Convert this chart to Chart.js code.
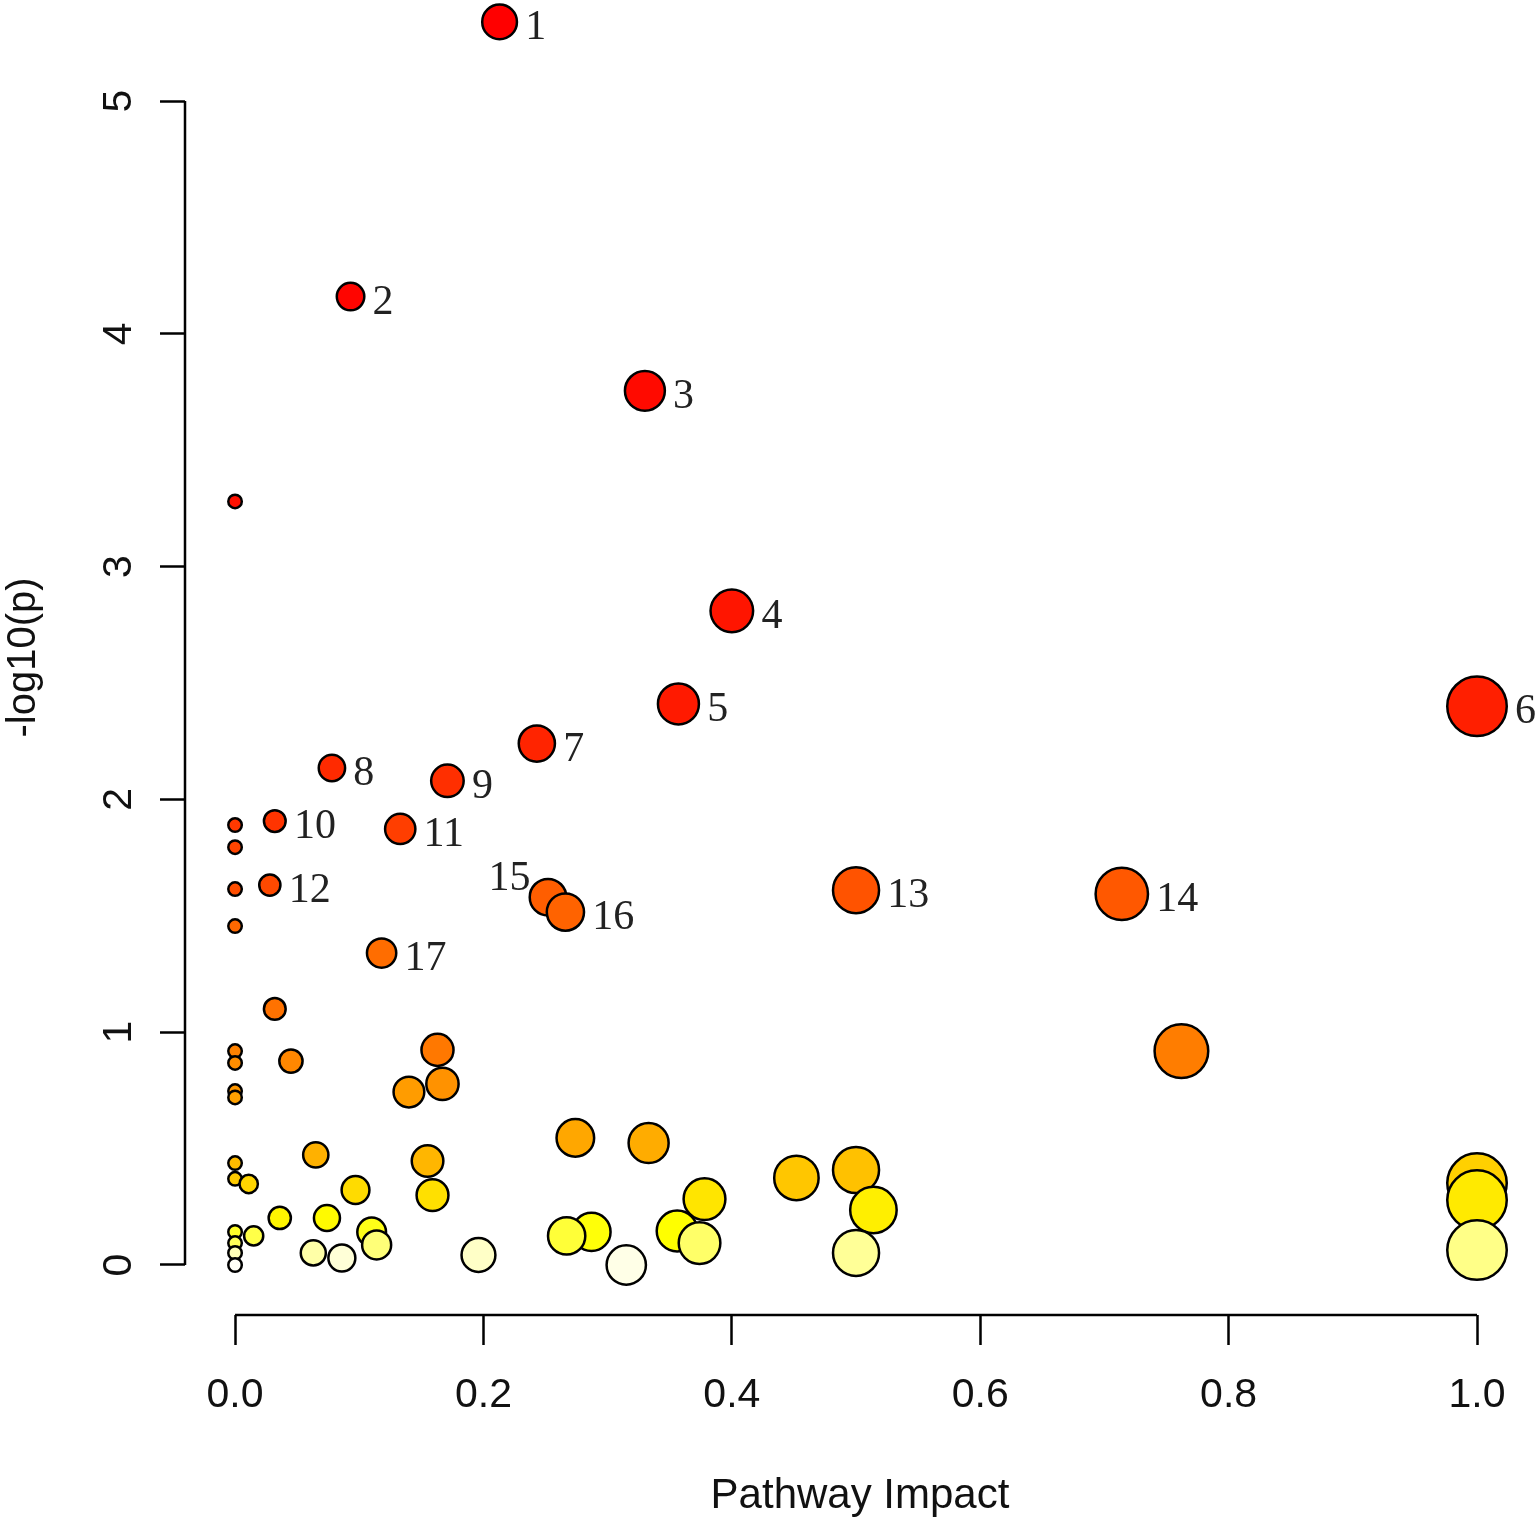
<!DOCTYPE html>
<html>
<head>
<meta charset="utf-8">
<title>Pathway Impact</title>
<script src="https://cdn.jsdelivr.net/npm/chart.js@4.4.1/dist/chart.umd.min.js"></script>
<style>
  html, body { margin: 0; padding: 0; background: #fff; overflow: hidden; }
  #wrap { position: relative; width: 1535px; height: 1522px; }
</style>
</head>
<body>
<div id="wrap"><canvas id="myChart"></canvas></div>
<script>
/*******************************
* DATA (sorted by -log10(p))
********************************/
var impact = [
  0.213, 0.093, 0.330, 0.000, 0.400, 0.357, 1.000, 0.243, 0.078, 0.171,
  0.032, 0.000, 0.133, 0.000, 0.028, 0.000, 0.500, 0.714, 0.252, 0.266,
  0.000, 0.118, 0.032, 0.163, 0.762, 0.000, 0.045, 0.000, 0.167, 0.000,
  0.140, 0.000, 0.274, 0.333, 0.065, 0.155, 0.000, 0.500, 0.452, 0.000,
  1.000, 0.011, 0.097, 0.159, 0.378, 1.000, 0.514, 0.036, 0.074, 0.356,
  0.287, 0.110, 0.000, 0.267, 0.015, 0.000, 0.374, 0.114, 1.000, 0.500,
  0.063, 0.000, 0.196, 0.086, 0.315, 0.000
];

var logP = [
  5.34, 4.16, 3.755, 3.28, 2.81, 2.41, 2.40, 2.24, 2.135, 2.08,
  1.907, 1.89, 1.873, 1.795, 1.632, 1.615, 1.61, 1.594, 1.58, 1.516,
  1.456, 1.34, 1.10, 0.924, 0.919, 0.919, 0.876, 0.868, 0.778, 0.747,
  0.743, 0.72, 0.546, 0.524, 0.473, 0.447, 0.438, 0.408, 0.374, 0.37,
  0.352, 0.348, 0.322, 0.30, 0.283, 0.279, 0.236, 0.202, 0.202, 0.146,
  0.142, 0.142, 0.142, 0.125, 0.125, 0.094, 0.094, 0.086, 0.064, 0.052,
  0.052, 0.052, 0.043, 0.03, 0.0, 0.0
];

var pathwayLabels = [
  '1', '2', '3', '', '4', '5', '6', '7', '8', '9',
  '10', '', '11', '', '12', '', '13', '14', '15', '16',
  '', '17', '', '', '', '', '', '', '', '',
  '', '', '', '', '', '', '', '', '', '',
  '', '', '', '', '', '', '', '', '', '',
  '', '', '', '', '', '', '', '', '', '',
  '', '', '', '', '', ''
];

var xTicks = [0, 0.2, 0.4, 0.6, 0.8, 1.0];
var yTicks = [0, 1, 2, 3, 4, 5];

var xTitle = 'Pathway Impact';
var yTitle = '-log10(p)';

(function(){
  /*******************************
  * LOAD
  ********************************/
  window.addEventListener('load', function() {
    app.init();
  })

  var SANS = '"Liberation Sans", Arial, sans-serif';
  var SERIF = '"Liberation Serif", "Times New Roman", serif';

  // label 15 sits up and to the left of its circle
  var labelLeft = { '15': true };

  var app = {

    init: function() {
      app.colors = app.heatColors();
      app.chart();
    },

    /*******************************
    * circle size grows with impact
    ********************************/
    radius: function(i) {
      return 8 + 23 * Math.sqrt(impact[i]);
    },

    /*******************************
    * R style heat.colors, by p-value rank
    ********************************/
    heatColors: function() {
      var n = logP.length;
      var j = Math.floor(n / 4);
      var i = n - j;
      var order = logP.map(function(v, k){ return k; });
      order.sort(function(a, b){ return logP[b] - logP[a]; });

      var cols = new Array(n);
      order.forEach(function(idx, rank){
        var h, s;
        if (rank < i) {
          h = (rank / (i - 1)) / 6;
          s = 1;
        } else {
          var m = rank - i;
          h = 1 / 6;
          s = (1 - 1 / (2 * j)) - m * ((1 - 1 / j) / (j - 1));
        }
        cols[idx] = app.hsv(h, s, 1);
      });
      return cols;
    },

    hsv: function(h, s, v) {
      var f = function(n) {
        var k = (n + h * 6) % 6;
        return v - v * s * Math.max(0, Math.min(k, 4 - k, 1));
      };
      return 'rgb(' + Math.round(f(5) * 255) + ',' + Math.round(f(3) * 255) + ',' + Math.round(f(1) * 255) + ')';
    },

    /*******************************
    * CHART
    ********************************/
    chart: function() {
      var ctx = document.getElementById('myChart');

      var points = impact.map(function(x, i){
        return { x: x, y: logP[i] };
      });

      // R style axes: line only from first to last tick
      var axisLines = {
        id: 'axisLines',
        afterDraw: function(chart) {
          var c = chart.ctx;
          var xs = chart.scales.x;
          var ys = chart.scales.y;
          var area = chart.chartArea;
          c.save();
          c.strokeStyle = '#000';
          c.lineWidth = 2.5;
          c.beginPath();
          c.moveTo(xs.getPixelForValue(xTicks[0]), area.bottom);
          c.lineTo(xs.getPixelForValue(xTicks[xTicks.length - 1]), area.bottom);
          c.moveTo(area.left, ys.getPixelForValue(yTicks[0]));
          c.lineTo(area.left, ys.getPixelForValue(yTicks[yTicks.length - 1]));
          c.stroke();

          // rotated y tick labels
          c.fillStyle = '#111';
          c.font = '41px ' + SANS;
          c.textAlign = 'center';
          c.textBaseline = 'middle';
          yTicks.forEach(function(v){
            c.save();
            c.translate(area.left - 65, ys.getPixelForValue(v));
            c.rotate(-Math.PI / 2);
            c.fillText(String(v), 0, 0);
            c.restore();
          });
          c.restore();
        }
      };

      // numbered labels beside the circles
      var pointLabels = {
        id: 'pointLabels',
        afterDatasetsDraw: function(chart) {
          var c = chart.ctx;
          var meta = chart.getDatasetMeta(0);
          c.save();
          c.fillStyle = '#222';
          c.font = '42px ' + SERIF;
          c.textBaseline = 'middle';
          pathwayLabels.forEach(function(lab, i){
            if (!lab) return;
            var el = meta.data[i];
            var r = app.radius(i);
            if (labelLeft[lab]) {
              c.textAlign = 'right';
              c.fillText(lab, el.x - r + 2, el.y - 18);
            } else {
              c.textAlign = 'left';
              c.fillText(lab, el.x + r + 7, el.y + 6);
            }
          });
          c.restore();
        }
      };

      var myChart = new Chart(ctx, {
        type: 'scatter',
        data: {
          datasets: [{
            data: points,
            clip: false,
            pointRadius: function(c){ return app.radius(c.dataIndex) - 1.25; },
            pointHoverRadius: function(c){ return app.radius(c.dataIndex) - 1.25; },
            pointBackgroundColor: app.colors,
            pointHoverBackgroundColor: app.colors,
            pointBorderColor: '#000',
            pointHoverBorderColor: '#000',
            pointBorderWidth: 2.5,
            pointHoverBorderWidth: 2.5
          }]
        },
        options: {
          responsive: true,
          maintainAspectRatio: false,
          animation: false,
          events: [],
          layout: { padding: 0, autoPadding: false },
          plugins: {
            legend: { display: false },
            tooltip: { enabled: false }
          },
          scales: {
            x: {
              type: 'linear',
              min: -0.0403,
              max: 1.0467,
              afterBuildTicks: function(scale){
                scale.ticks = xTicks.map(function(v){ return { value: v }; });
              },
              afterFit: function(scale){
                scale.height = 207;
                scale.paddingLeft = 0;
                scale.paddingRight = 0;
              },
              border: { display: false },
              grid: {
                display: true,
                drawOnChartArea: false,
                drawTicks: true,
                tickLength: 30,
                tickColor: '#000',
                tickWidth: 2.5
              },
              ticks: {
                autoSkip: false,
                maxRotation: 0,
                padding: 26,
                color: '#111',
                font: { family: SANS, size: 41 },
                callback: function(v){ return Number(v).toFixed(1); }
              },
              title: {
                display: true,
                text: xTitle,
                color: '#111',
                font: { family: SANS, size: 42 },
                padding: { top: 0, bottom: 0 }
              }
            },
            y: {
              type: 'linear',
              min: -0.2148,
              max: 5.434,
              afterBuildTicks: function(scale){
                scale.ticks = yTicks.map(function(v){ return { value: v }; });
              },
              afterFit: function(scale){
                scale.width = 185;
                scale.paddingTop = 0;
                scale.paddingBottom = 0;
              },
              border: { display: false },
              grid: {
                display: true,
                drawOnChartArea: false,
                drawTicks: true,
                tickLength: 25,
                tickColor: '#000',
                tickWidth: 2.5
              },
              ticks: { display: false },
              title: {
                display: true,
                text: yTitle,
                color: '#111',
                font: { family: SANS, size: 40 },
                padding: { top: 0, bottom: 0 }
              }
            }
          }
        },
        plugins: [axisLines, pointLabels]
      });
    }

  }
})()
</script>
</body>
</html>
